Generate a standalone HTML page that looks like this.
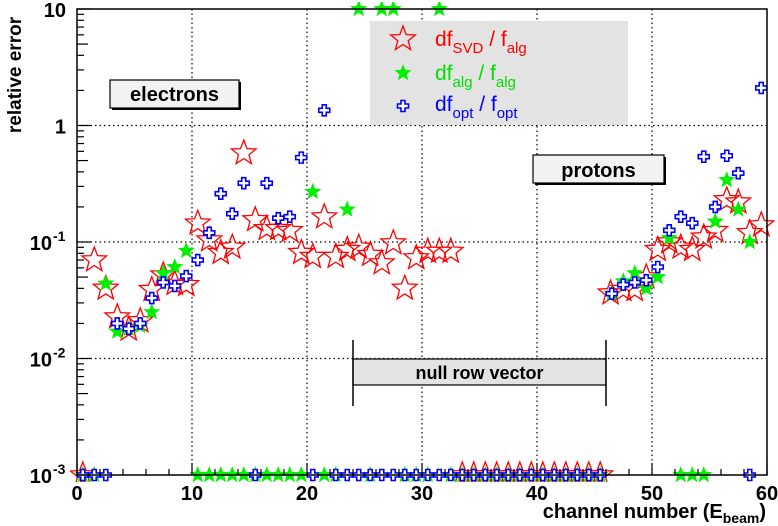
<!DOCTYPE html>
<html><head><meta charset="utf-8"><style>
html,body{margin:0;padding:0;background:#fff;}
svg{display:block;font-family:"Liberation Sans",Arial,sans-serif;}
</style></head><body>
<svg id="chart" width="778" height="526" viewBox="0 0 778 526" xmlns="http://www.w3.org/2000/svg">
<defs>
<clipPath id="plotclip"><rect x="70" y="2" width="705" height="480"/></clipPath>
</defs>
<g id="grid"></g>
<g id="annot">
  <rect x="370" y="21" width="258" height="104" fill="#e3e3e3"/>
  <g>
    <rect x="112" y="82" width="129" height="28" fill="#000"/>
    <rect x="110" y="80" width="129" height="28" fill="#f2f2f2" stroke="#000" stroke-width="1.2"/>
    <text x="174.5" y="101" text-anchor="middle" font-size="20" font-weight="bold">electrons</text>
  </g>
  <g>
    <rect x="535" y="157" width="131" height="28" fill="#000"/>
    <rect x="533" y="155" width="131" height="28" fill="#f2f2f2" stroke="#000" stroke-width="1.2"/>
    <text x="598.5" y="177" text-anchor="middle" font-size="20" font-weight="bold">protons</text>
  </g>
  <g>
    <rect x="353" y="359" width="253" height="26" fill="#e3e3e3" stroke="#000" stroke-width="1.2"/>
    <line x1="353" y1="340" x2="353" y2="406" stroke="#000" stroke-width="1.5"/>
    <line x1="606" y1="340" x2="606" y2="406" stroke="#000" stroke-width="1.5"/>
    <text x="479.5" y="379" text-anchor="middle" font-size="18" font-weight="bold">null row vector</text>
  </g>
</g>
<g id="marks" clip-path="url(#plotclip)"></g>
<g id="axes"></g>
<g id="legend">
  <text x="435" y="46" font-size="21" fill="#f00">df<tspan font-size="15" dy="7">SVD</tspan><tspan dy="-7"> / f</tspan><tspan font-size="15" dy="7">alg</tspan></text>
  <text x="435" y="80" font-size="21" fill="#00e000">df<tspan font-size="15" dy="7">alg</tspan><tspan dy="-7"> / f</tspan><tspan font-size="15" dy="7">alg</tspan></text>
  <text x="435" y="111" font-size="21" fill="#00f">df<tspan font-size="15" dy="7">opt</tspan><tspan dy="-7"> / f</tspan><tspan font-size="15" dy="7">opt</tspan></text>
</g>
<text x="16" y="75" transform="rotate(-90 16 75)" text-anchor="middle" dominant-baseline="middle" font-size="19" font-weight="bold">relative error</text>
<text x="766" y="518" text-anchor="end" font-size="20" font-weight="bold">channel number (E<tspan font-size="14" dy="5">beam</tspan><tspan dy="-5">)</tspan></text>
</svg>
<script>
const xTicks=[0,10,20,30,40,50,60];
const yTicks=[0.001,0.01,0.1,1,10];
const yTickLabels=["10","10","10","1","10"];
const yTickExp=["-3","-2","-1","",""];
const svdX=[0.5,1.5,2.5,3.5,4.5,5.5,6.5,7.5,8.5,9.5,10.5,11.5,12.5,13.5,14.5,15.5,16.5,17.5,18.5,19.5,20.5,21.5,22.5,23.5,24.5,25.5,26.5,27.5,28.5,29.5,30.5,31.5,32.5,33.5,34.5,35.5,36.5,37.5,38.5,39.5,40.5,41.5,42.5,43.5,44.5,45.5,46.4,47.5,48.5,49.5,50.5,51.5,52.5,53.5,54.5,55.5,56.5,57.5,58.5,59.5];
const svdY=[0.001,0.07,0.04,0.0227,0.0178,0.021,0.039,0.052,0.044,0.043,0.145,0.104,0.081,0.09,0.58,0.155,0.13,0.13,0.125,0.081,0.075,0.164,0.075,0.086,0.09,0.078,0.066,0.098,0.04,0.073,0.083,0.083,0.083,0.001,0.001,0.001,0.001,0.001,0.001,0.001,0.001,0.001,0.001,0.001,0.001,0.001,0.0364,0.039,0.039,0.05,0.086,0.1,0.09,0.086,0.11,0.125,0.23,0.22,0.12,0.14];
const algX=[0.5,1.5,2.5,3.5,4.5,5.5,6.5,7.5,8.5,9.5,10.5,11.5,12.5,13.5,14.5,15.5,16.5,17.5,18.5,19.5,20.5,21.5,22.5,23.5,24.5,25.5,26.5,27.5,28.5,29.5,30.5,31.5,32.5,33.5,34.5,35.5,36.5,37.5,38.5,39.5,40.5,41.5,42.5,43.5,44.5,45.5,46.5,47.5,48.5,49.5,50.5,51.5,52.5,53.5,54.5,55.5,56.5,57.5,58.5];
const algY=[0.001,0.001,0.044,0.017,0.018,0.019,0.025,0.054,0.061,0.084,0.001,0.001,0.001,0.001,0.001,0.001,0.001,0.001,0.001,0.001,0.27,0.001,0.001,0.19,10,0.001,10,10,0.001,0.001,0.001,10,0.001,0.001,0.001,0.001,0.001,0.001,0.001,0.001,0.001,0.001,0.001,0.001,0.001,0.001,0.036,0.046,0.054,0.04,0.05,0.108,0.001,0.001,0.001,0.15,0.34,0.19,0.1];
const optX=[0.5,1.5,2.5,3.5,4.5,5.5,6.5,7.5,8.5,9.5,10.5,11.5,12.5,13.5,14.5,15.5,16.5,17.5,18.5,19.5,20.5,21.5,22.5,23.5,24.5,25.5,26.5,27.5,28.5,29.5,30.5,31.5,32.5,33.5,34.5,35.5,36.5,37.5,38.5,39.5,40.5,41.5,42.5,43.5,44.5,45.5,46.5,47.5,48.5,49.5,50.5,51.5,52.5,53.5,54.5,55.5,56.5,57.5,58.5,59.5];
const optY=[0.001,0.001,0.001,0.02,0.018,0.02,0.033,0.045,0.042,0.051,0.07,0.12,0.26,0.175,0.32,0.001,0.32,0.16,0.165,0.53,0.001,1.35,0.001,0.001,0.001,0.001,0.001,0.001,0.001,0.001,0.001,0.001,0.001,0.001,0.001,0.001,0.001,0.001,0.001,0.001,0.001,0.001,0.001,0.001,0.001,0.001,0.036,0.043,0.045,0.047,0.061,0.126,0.165,0.145,0.54,0.2,0.55,0.39,0.001,2.1];
const NS="http://www.w3.org/2000/svg";
const X0=77,X1=767,Y0=475,Y1=9;
function xs(v){return X0+(v/60)*(X1-X0);}
function ys(v){const l=Math.log10(Math.max(v,0.001));return Y0-(l+3)/4*(Y0-Y1);}
function mk(tag,attrs,parent){const e=document.createElementNS(NS,tag);for(const k in attrs)e.setAttribute(k,attrs[k]);parent.appendChild(e);return e;}
const grid=document.getElementById('grid'),axes=document.getElementById('axes'),marks=document.getElementById('marks');
xTicks.forEach((t,i)=>{if(i>0&&i<xTicks.length-1){const l=mk('line',{x1:xs(t),x2:xs(t),y1:Y1,y2:Y0,stroke:'#000','stroke-dasharray':'1.5,3','stroke-width':1.2},grid);

}});
yTicks.forEach((t,i)=>{if(i>0&&i<yTicks.length-1){const l=mk('line',{x1:X0,x2:X1,y1:ys(t),y2:ys(t),stroke:'#000','stroke-dasharray':'1.5,3','stroke-width':1.2},grid);

}});
const frame=mk('rect',{x:X0,y:Y1,width:X1-X0,height:Y0-Y1,fill:'none',stroke:'#000','stroke-width':1.5},axes);


for(let v=0;v<=60;v+=2){const big=v%10===0;mk('line',{x1:xs(v),x2:xs(v),y1:Y0,y2:Y0-(big?12:6),stroke:'#000','stroke-width':1.2},axes);}
xTicks.forEach(t=>{const tx=mk('text',{x:xs(t),y:500,'text-anchor':'middle','font-size':20,'font-weight':'bold'},axes);tx.textContent=t;

});
for(let d=-3;d<1;d++){for(let m=2;m<=9;m++){const y=ys(m*Math.pow(10,d));mk('line',{x1:X0,x2:X0+(m===5?11:7),y1:y,y2:y,stroke:'#000','stroke-width':1.2},axes);}}
yTicks.forEach((t,i)=>{const y=ys(t);mk('line',{x1:X0,x2:X0+14,y1:y,y2:y,stroke:'#000','stroke-width':1.2},axes);
const tx=mk('text',{x:yTickExp[i]?52:66,y:y+8,'text-anchor':'end','font-size':20,'font-weight':'bold'},axes);tx.textContent=yTickLabels[i];


if(yTickExp[i]){const e=mk('text',{x:53,y:y-1,'font-size':14,'font-weight':'bold'},axes);e.textContent=yTickExp[i];}});
function starPts(cx,cy,R,r){let p=[];for(let k=0;k<10;k++){const a=-Math.PI/2+k*Math.PI/5;const rr=k%2?r:R;p.push((cx+rr*Math.cos(a)).toFixed(1)+','+(cy+rr*Math.sin(a)).toFixed(1));}return p.join(' ');}
function crossPath(cx,cy){const a=2,b=5.5;return `M${cx-a},${cy-b}h${2*a}v${b-a}h${b-a}v${2*a}h${a-b}v${b-a}h${-2*a}v${a-b}h${a-b}v${-2*a}h${b-a}z`;}
svdX.forEach((x,i)=>{const p=mk('polygon',{points:starPts(xs(x),ys(svdY[i]),13,5.5),fill:'none',stroke:'#f00','stroke-width':1.3},marks);

});
algX.forEach((x,i)=>{const p=mk('polygon',{points:starPts(xs(x),ys(algY[i]),9,3.8),fill:'#00f000',stroke:'none'},marks);

});
optX.forEach((x,i)=>{const p=mk('path',{d:crossPath(xs(x),ys(optY[i])),fill:'#fff',stroke:'#00f','stroke-width':1.6},marks);

});
const ls=document.getElementById('legend');
const s1=mk('polygon',{points:starPts(403,39,13,5.5),fill:'none',stroke:'#f00','stroke-width':1.3},ls);


const s2=mk('polygon',{points:starPts(403,73,9,3.8),fill:'#00f000'},ls);


const s3=mk('path',{d:crossPath(403,106),fill:'#fff',stroke:'#00f','stroke-width':1.6},ls);


</script>
</body></html>
